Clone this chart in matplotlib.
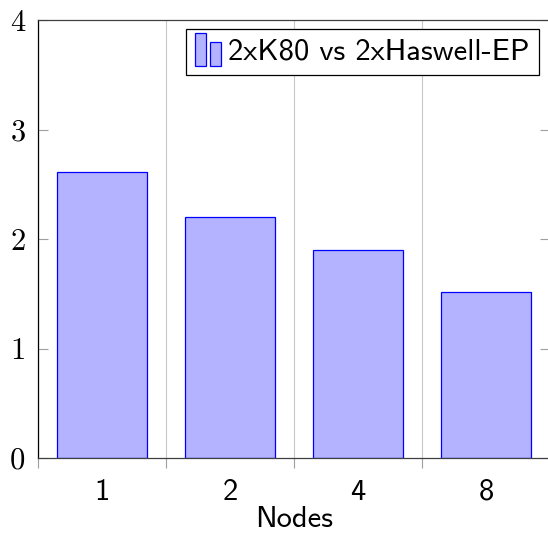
import matplotlib
matplotlib.use("Agg")
import matplotlib.pyplot as plt
from matplotlib.legend_handler import HandlerBase
from matplotlib.patches import Rectangle
import numpy as np

categories = ["1", "2", "4", "8"]
values = [2.61, 2.20, 1.90, 1.52]
series_label = "2xK80 vs 2xHaswell-EP"
yticks = [0, 1, 2, 3, 4]
xlabel = "Nodes"

FILL = "#b3b3ff"
EDGE = "#0000ff"
GRAY = "#a0a0a0"
FS = 22

W, H = 548, 533
fig = plt.figure(figsize=(W / 100, H / 100), dpi=100)
ax = fig.add_axes([38 / W, (H - 458) / H, 512 / W, 438 / H])

x = np.arange(len(categories))
bars = ax.bar(x, values, width=0.7, color=FILL, edgecolor=EDGE, linewidth=0.9, zorder=3)

ax.set_xlim(-0.5, len(categories) - 0.5)
ax.set_ylim(0, 4)

# x ticks: labels at centers, tick marks + grid at boundaries
ax.set_xticks(x)
ax.set_xticklabels(categories, family="cmss10", fontsize=FS)
ax.set_xticks(np.arange(len(categories) + 1) - 0.5, minor=True)
ax.tick_params(axis="x", which="major", length=0, pad=15)
ax.tick_params(axis="x", which="minor", length=7, color=GRAY, width=0.8, direction="out")
ax.grid(axis="x", which="minor", color="#c8c8c8", linewidth=0.8, zorder=0)

ax.set_yticks(yticks)
ax.set_yticklabels([str(t) for t in yticks], family="cmr10", fontsize=FS)
ax.tick_params(axis="y", which="major", length=7, color=GRAY, width=0.8,
               direction="in", left=True, right=True, pad=9)

ax.set_xlabel(xlabel, family="cmss10", fontsize=FS, labelpad=0)

ax.spines["left"].set_color("black")
for s in ["top", "bottom", "right"]:
    ax.spines[s].set_color("#404040")
for s in ax.spines.values():
    s.set_linewidth(0.9)
    s.set_zorder(4)


class TwoBarHandler(HandlerBase):
    def create_artists(self, legend, orig_handle, xdescent, ydescent, width, height, fontsize, trans):
        bw = width * 0.42
        r1 = Rectangle((-xdescent, -ydescent - height * 0.3), bw, height * 1.55,
                       facecolor=FILL, edgecolor=EDGE, linewidth=0.9, transform=trans)
        r2 = Rectangle((-xdescent + width * 0.58, -ydescent - height * 0.3), bw, height * 1.1,
                       facecolor=FILL, edgecolor=EDGE, linewidth=0.9, transform=trans)
        return [r1, r2]


leg = ax.legend([bars], [series_label], handler_map={type(bars): TwoBarHandler()},
                loc="upper right", bbox_to_anchor=(0.9785, 0.9795), borderaxespad=0,
                fancybox=False, framealpha=1, edgecolor="black",
                prop={"family": "cmss10", "size": FS},
                handlelength=0.85, handletextpad=0.25, borderpad=0.3)
leg.get_frame().set_linewidth(0.9)
leg.set_zorder(5)

fig.savefig("out.png", dpi=100)
